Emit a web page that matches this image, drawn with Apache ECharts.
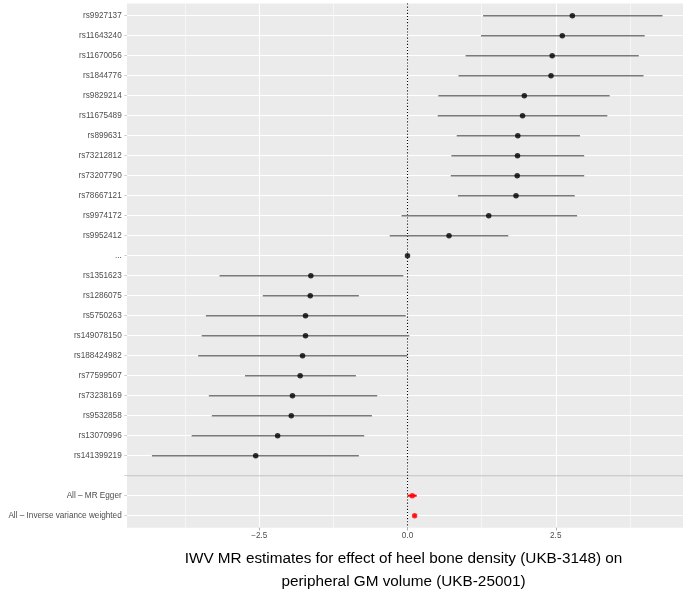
<!DOCTYPE html>
<html>
<head>
<meta charset="utf-8">
<script src="https://cdn.jsdelivr.net/npm/echarts@6/dist/echarts.min.js"></script>
<style>
  html, body { margin: 0; padding: 0; background: #ffffff; }
  #chart { width: 683px; height: 592px; }
</style>
</head>
<body>
<div id="chart"></div>
<script>
// Per-SNP Wald ratio estimates with 95% intervals (top to bottom)
const snpLabels = [
  'rs9927137', 'rs11643240', 'rs11670056', 'rs1844776', 'rs9829214', 'rs11675489',
  'rs899631', 'rs73212812', 'rs73207790', 'rs78667121', 'rs9974172', 'rs9952412',
  '...',
  'rs1351623', 'rs1286075', 'rs5750263', 'rs149078150', 'rs188424982', 'rs77599507',
  'rs73238169', 'rs9532858', 'rs13070996', 'rs141399219'
];
const snpEstimate = [
  2.78, 2.61, 2.44, 2.42, 1.97, 1.94,
  1.86, 1.855, 1.85, 1.83, 1.37, 0.70,
  0,
  -1.63, -1.64, -1.72, -1.72, -1.77, -1.81,
  -1.94, -1.96, -2.19, -2.56
];
const snpLower = [
  1.275, 1.24, 0.98, 0.86, 0.52, 0.51,
  0.83, 0.74, 0.73, 0.85, -0.10, -0.30,
  null,
  -3.17, -2.44, -3.40, -3.47, -3.53, -2.74,
  -3.35, -3.30, -3.64, -4.31
];
const snpUpper = [
  4.30, 4.00, 3.90, 3.98, 3.41, 3.37,
  2.91, 2.98, 2.98, 2.82, 2.86, 1.70,
  null,
  -0.07, -0.82, -0.03, 0.03, 0.00, -0.87,
  -0.51, -0.60, -0.73, -0.82
];

// Summary estimates across all SNPs
const methodLabels = ['All \u2013 MR Egger', 'All \u2013 Inverse variance weighted'];
const methodEstimate = [0.08, 0.12];
const methodLower = [0.0, 0.10];
const methodUpper = [0.155, 0.14];

const xTicks = [-2.5, 0, 2.5];
const refLineX = [0];
const xTitle = 'IWV MR estimates for effect of heel bone density (UKB-3148) on\nperipheral GM volume (UKB-25001)';

// Rows: SNPs, an empty spacer row, then the summary methods
const rowLabels = snpLabels.concat([''], methodLabels);
const sepIndex = snpLabels.length;
const methodOffset = snpLabels.length + 1;

const snpBars = [];
const snpPoints = [];
snpLabels.forEach((_, i) => {
  if (snpLower[i] !== null) snpBars.push([snpLower[i], snpUpper[i], i]);
  snpPoints.push([snpEstimate[i], i]);
});
const methodBars = methodLabels.map((_, i) => [methodLower[i], methodUpper[i], methodOffset + i]);
const methodPoints = methodLabels.map((_, i) => [methodEstimate[i], methodOffset + i]);

// Pixel layout of the panel
const ZERO_X = 407.5, PX_PER_UNIT = 59.3;
const PANEL_LEFT = 127, PANEL_RIGHT = 683, PANEL_TOP = 3.5, PANEL_BOTTOM = 527.7;
const ROW_FIRST = 15.7, ROW_LAST = 515.7;

const font = 'Liberation Sans, Arial, Helvetica, sans-serif';

function hBar(color, width) {
  return function (params, api) {
    const y = api.value(2);
    const p0 = api.coord([api.value(0), y]);
    const p1 = api.coord([api.value(1), y]);
    return {
      type: 'line',
      shape: { x1: p0[0], y1: p0[1], x2: p1[0], y2: p1[1] },
      style: { stroke: color, lineWidth: width }
    };
  };
}

const chart = echarts.init(document.getElementById('chart'), null, { renderer: 'canvas' });

chart.setOption({
  animation: false,
  backgroundColor: '#ffffff',
  grid: [
    // panel background
    { left: PANEL_LEFT, right: 0, top: PANEL_TOP, height: PANEL_BOTTOM - PANEL_TOP,
      show: true, backgroundColor: '#EBEBEB', borderWidth: 0, outerBoundsMode: 'none' },
    // x scale with gridlines, spanning the full panel height
    { left: ZERO_X - 5 * PX_PER_UNIT, width: 10 * PX_PER_UNIT, top: PANEL_TOP,
      height: PANEL_BOTTOM - PANEL_TOP, outerBoundsMode: 'none' },
    // data rows
    { left: PANEL_LEFT, right: 0, top: ROW_FIRST, height: ROW_LAST - ROW_FIRST,
      outerBoundsMode: 'none' }
  ],
  xAxis: [
    { gridIndex: 0, type: 'value', show: false, min: 0, max: 1 },
    {
      gridIndex: 1, type: 'value', min: -5, max: 5, interval: 2.5,
      axisLine: { show: false, onZero: false },
      axisTick: { show: true, length: 2.7, customValues: xTicks,
                  lineStyle: { color: '#9A9A9A', width: 0.8 } },
      axisLabel: {
        customValues: xTicks,
        margin: 4.5, color: '#4D4D4D', fontSize: 8.2, fontFamily: font,
        formatter: v => xTicks.indexOf(v) >= 0 ? (v < 0 ? '\u2212' : '') + Math.abs(v).toFixed(1) : ''
      },
      splitLine: { show: true, lineStyle: { color: '#FFFFFF', width: 1.1 } },
      minorTick: { show: false, splitNumber: 2 },
      minorSplitLine: { show: true, lineStyle: { color: '#FFFFFF', width: 0.55 } },
      name: xTitle,
      nameLocation: 'middle',
      nameGap: 19.5,
      nameTextStyle: { color: '#000000', fontSize: 15.3, lineHeight: 23, fontFamily: font,
                       padding: [0, 8, 0, 0] }
    },
    {
      gridIndex: 2, type: 'value', show: false,
      axisLine: { onZero: false },
      min: (PANEL_LEFT - ZERO_X) / PX_PER_UNIT,
      max: (PANEL_RIGHT - ZERO_X) / PX_PER_UNIT
    }
  ],
  yAxis: [
    { gridIndex: 0, type: 'value', show: false, min: 0, max: 1 },
    { gridIndex: 1, type: 'value', show: false, min: 0, max: 1, axisLine: { onZero: false } },
    {
      gridIndex: 2, type: 'category', data: rowLabels, inverse: true, boundaryGap: false,
      axisLine: { show: false, onZero: false },
      axisTick: { show: true, length: 2.7, interval: 0,
                  lineStyle: { color: '#C4C4C4', width: 0.8 } },
      axisLabel: { interval: 0, margin: 5.3, color: '#4D4D4D', fontSize: 8.2, fontFamily: font },
      splitLine: { show: true, interval: 0, lineStyle: { color: '#FFFFFF', width: 1.1 } }
    }
  ],
  series: [
    {
      // reference line at zero
      type: 'custom', xAxisIndex: 1, yAxisIndex: 1,
      data: refLineX.map(v => [v]),
      encode: { x: 0 },
      renderItem: function (params, api) {
        const x = api.coord([api.value(0), 0])[0];
        const cs = params.coordSys;
        return {
          type: 'line',
          shape: { x1: x, y1: cs.y, x2: x, y2: cs.y + cs.height },
          style: { stroke: '#000000', lineWidth: 1.1, lineDash: [1.1, 2] }
        };
      },
      z: 3
    },
    {
      // separator between SNP rows and summary rows
      type: 'custom', xAxisIndex: 2, yAxisIndex: 2,
      data: [[sepIndex]],
      encode: { y: 0 },
      renderItem: function (params, api) {
        const y = api.coord([0, api.value(0)])[1];
        const cs = params.coordSys;
        return {
          type: 'line',
          shape: { x1: cs.x, y1: y, x2: cs.x + cs.width, y2: y },
          style: { stroke: '#BEBEBE', lineWidth: 1.1 }
        };
      },
      z: 2
    },
    {
      type: 'custom', xAxisIndex: 2, yAxisIndex: 2,
      data: snpBars, encode: { x: [0, 1], y: 2 },
      renderItem: hBar('#7A7A7A', 1.4), z: 4
    },
    {
      type: 'custom', xAxisIndex: 2, yAxisIndex: 2,
      data: methodBars, encode: { x: [0, 1], y: 2 },
      renderItem: hBar('#FF0000', 2), z: 4
    },
    {
      type: 'scatter', xAxisIndex: 2, yAxisIndex: 2,
      data: snpPoints, symbol: 'circle', symbolSize: 5.5,
      itemStyle: { color: '#000000' }, z: 5
    },
    {
      type: 'scatter', xAxisIndex: 2, yAxisIndex: 2,
      data: methodPoints, symbol: 'circle', symbolSize: 5.5,
      itemStyle: { color: '#FF0000' }, z: 5
    }
  ]
});
</script>
</body>
</html>
